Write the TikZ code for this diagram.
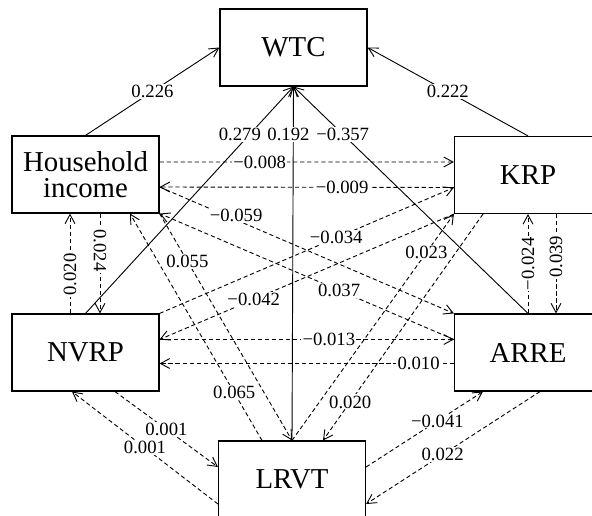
\documentclass[tikz,border=0pt]{standalone}
\usepackage{fontspec}
\setmainfont{Liberation Serif}
\usetikzlibrary{arrows.meta}

\tikzset{
  box/.style={draw, line width=0.8pt, minimum width=3.675cm, minimum height=1.925cm,
    inner sep=0pt, align=center, font=\fontsize{20.5}{19}\selectfont},
  eff/.style={-{Straight Barb[length=6.5pt,width=7pt]}, line width=0.65pt},
  weak/.style={eff, dash pattern=on 3pt off 2pt},
  lbl/.style={fill=white, inner sep=0.8pt, font=\fontsize{13.3}{13}\selectfont},
}

\begin{document}
\begin{tikzpicture}[x=0.025cm, y=0.025cm]
  \useasboundingbox (0,0) rectangle (592,515);
  \clip (0,0) rectangle (592,515);

  % Boxes
  \node[box] (wtc) at (293.5,467.5) {WTC};
  \node[box] (hi) at (85.5,340.5) {Household\\income};
  \node[box] (krp) at (528,340) {KRP};
  \node[box] (nvrp) at (85.5,162.5) {NVRP};
  \node[box] (arre) at (528,162.5) {ARRE};
  \node[box] (lrvt) at (292,35.5) {LRVT};

  % Ports on the box sides
  \coordinate (hiR1) at ([shift={(0,12.5)}]hi.east);
  \coordinate (hiR2) at ([shift={(0,-12.5)}]hi.east);
  \coordinate (hiB1) at ([shift={(-15.5,0)}]hi.south);
  \coordinate (hiB2) at ([shift={(14.5,0)}]hi.south);
  \coordinate (hiB3) at ([shift={(44.5,0)}]hi.south);
  \coordinate (krpL1) at ([shift={(0,13)}]krp.west);
  \coordinate (krpL2) at ([shift={(0,-12.5)}]krp.west);
  \coordinate (krpB1) at ([shift={(-45,0)}]krp.south);
  \coordinate (krpB3) at ([shift={(28,0)}]krp.south);
  \coordinate (nvrpT1) at ([shift={(-15.5,0)}]nvrp.north);
  \coordinate (nvrpT2) at ([shift={(14.5,0)}]nvrp.north);
  \coordinate (nvrpR1) at ([shift={(0,13)}]nvrp.east);
  \coordinate (nvrpR2) at ([shift={(0,-11)}]nvrp.east);
  \coordinate (nvrpB1) at ([shift={(-13.5,0)}]nvrp.south);
  \coordinate (nvrpB2) at ([shift={(29.5,0)}]nvrp.south);
  \coordinate (arreL1) at ([shift={(0,13)}]arre.west);
  \coordinate (arreL2) at ([shift={(0,-11)}]arre.west);
  \coordinate (arreT3) at ([shift={(28,0)}]arre.north);
  \coordinate (arreB1) at ([shift={(-45,0)}]arre.south);
  \coordinate (arreB2) at ([shift={(12,0)}]arre.south);
  \coordinate (lrvtT1) at ([shift={(-30,0)}]lrvt.north);
  \coordinate (lrvtT3) at ([shift={(31,0)}]lrvt.north);
  \coordinate (lrvtL1) at ([shift={(0,12.5)}]lrvt.west);
  \coordinate (lrvtL2) at ([shift={(0,-24.5)}]lrvt.west);
  \coordinate (lrvtR1) at ([shift={(0,12.5)}]lrvt.east);
  \coordinate (lrvtR2) at ([shift={(0,-24.5)}]lrvt.east);

  % Paths to WTC
  \draw[eff] (hi.north) -- (wtc.west) node[lbl, pos=0.5] {0.226};
  \draw[eff] (krp.north) -- (wtc.east) node[lbl, pos=0.5] {0.222};
  \draw[eff] (nvrp.north) -- (wtc.south) node[lbl, pos=0.79, xshift=-0.25cm] {0.279};
  \draw[eff] (lrvt.north) -- (wtc.south) node[lbl, pos=0.865, xshift=-0.12cm] {0.192};
  \draw[eff] (arre.north) -- (wtc.south) node[lbl, pos=0.79] {−0.357};

  % Household income
  \draw[weak] (hiR1) -- (krpL1) node[lbl, pos=0.34] {−0.008};
  \draw[weak] (krpL2) -- (hiR2) node[lbl, pos=0.38] {−0.009};
  \draw[weak] (nvrpT1) -- (hiB1) node[lbl, pos=0.39, sloped] {0.020};
  \draw[weak] (hiB2) -- (nvrpT2) node[lbl, pos=0.37, sloped] {0.024};
  \draw[weak] (hiR2) -- (arre.north west) node[lbl, pos=0.26, yshift=0.1cm] {−0.059};
  \draw[weak] (arreL1) -- (hi.south east) node[lbl, pos=0.39] {0.037};
  \draw[weak] (hi.south east) -- (lrvt.north) node[lbl, pos=0.21] {0.055};
  \draw[weak] (lrvtT1) -- (hiB3) node[lbl, pos=0.21] {0.065};

  % KRP
  \draw[weak] (nvrp.north east) -- (krpL2) node[lbl, pos=0.6] {−0.034};
  \draw[weak] (krp.south west) -- (nvrpR1) node[lbl, pos=0.68] {−0.042};
  \draw[weak] (lrvt.north) -- (krp.south west) node[lbl, pos=0.83] {0.023};
  \draw[weak] (krpB1) -- (lrvtT3) node[lbl, pos=0.83] {0.020};
  \draw[weak] (arre.north) -- (krp.south) node[lbl, pos=0.5, sloped] {−0.024};
  \draw[weak] (krpB3) -- (arreT3) node[lbl, pos=0.43, rotate=90] {0.039};

  % NVRP, ARRE and LRVT
  \draw[weak] (nvrpR1) -- (arreL1) node[lbl, pos=0.575] {−0.013};
  \draw[weak] (arreL2) -- (nvrpR2) node[lbl, pos=0.12] {0.010};
  \draw[weak] (nvrpB2) -- (lrvtL1) node[lbl, pos=0.5] {0.001};
  \draw[weak] (lrvtL2) -- (nvrpB1) node[lbl, pos=0.5] {0.001};
  \draw[weak] (lrvtR1) -- (arreB1) node[lbl, pos=0.61] {−0.041};
  \draw[weak] (arreB2) -- (lrvtR2) node[lbl, pos=0.56] {0.022};
\end{tikzpicture}
\end{document}
